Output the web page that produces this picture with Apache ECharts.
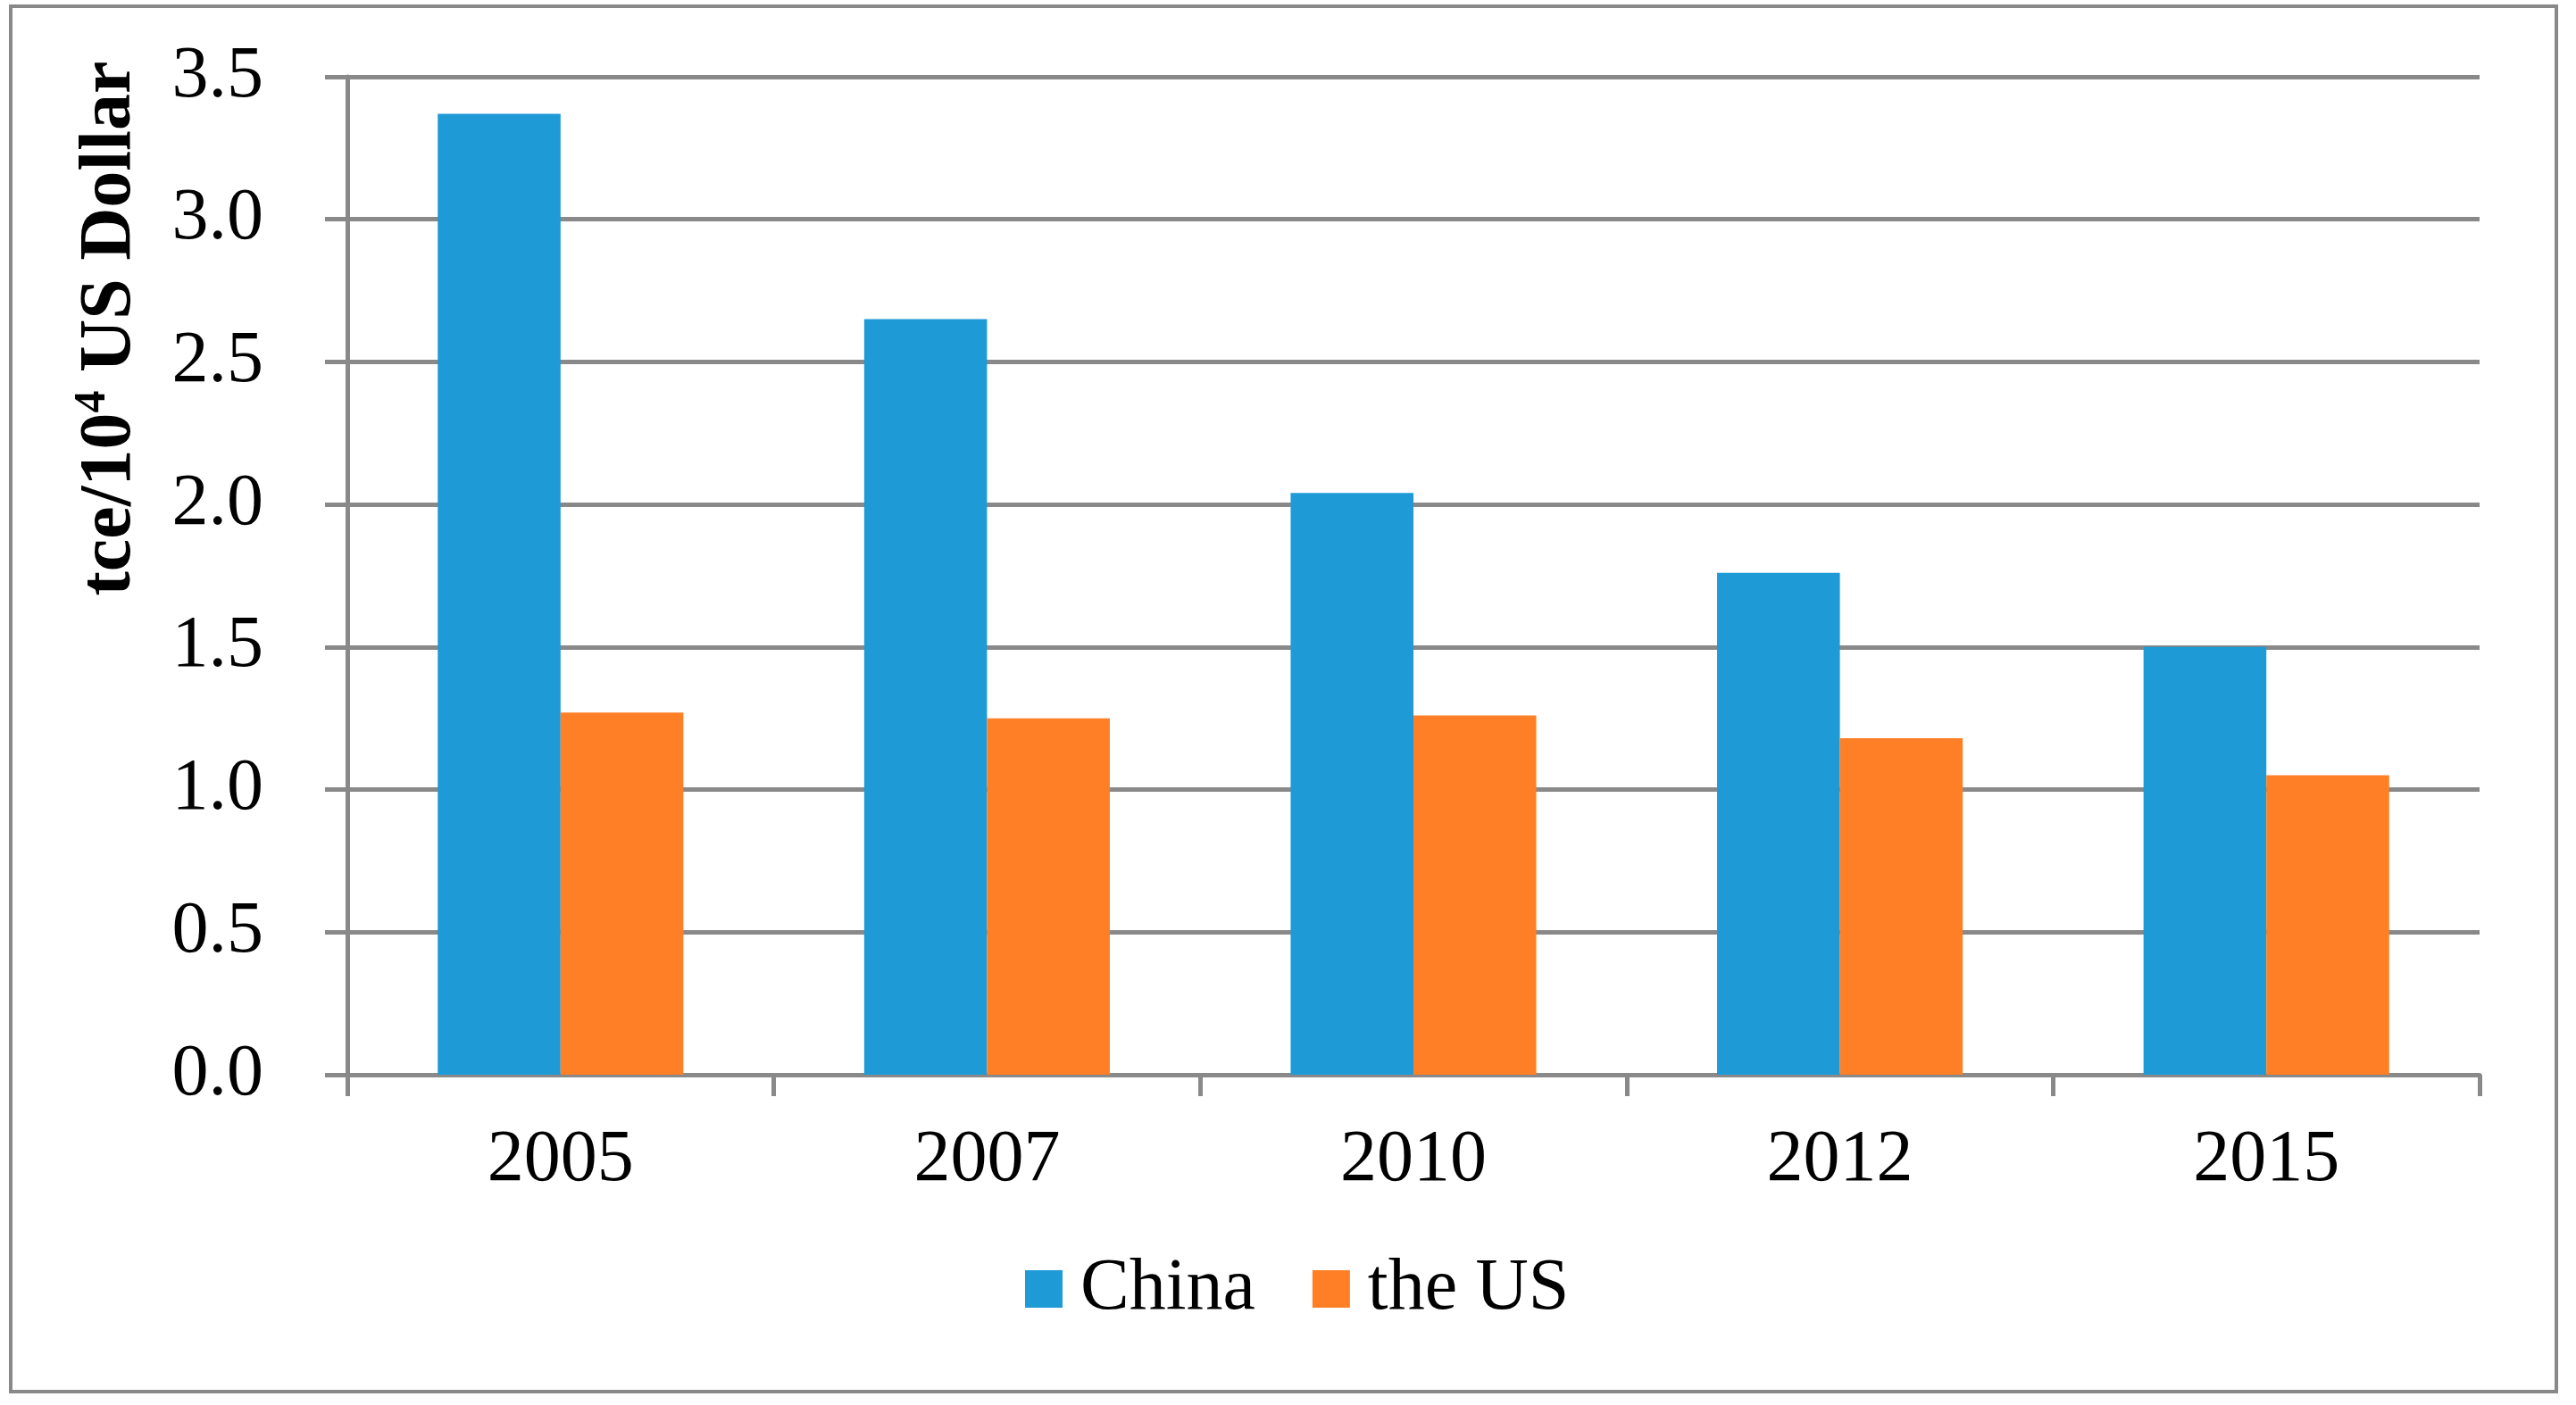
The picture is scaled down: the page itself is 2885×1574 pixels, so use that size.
<!DOCTYPE html>
<html>
<head>
<meta charset="utf-8">
<script src="https://cdn.jsdelivr.net/npm/echarts@6/dist/echarts.min.js"></script>
<style>
html,body{margin:0;padding:0;background:#fff;}
#chart{width:2885px;height:1574px;}
</style>
</head>
<body>
<div id="chart"></div>
<script>
const categories = ['2005', '2007', '2010', '2012', '2015'];
const chinaValues = [3.37, 2.65, 2.04, 1.76, 1.50];
const usValues = [1.27, 1.25, 1.26, 1.18, 1.05];
const seriesNames = ['China', 'the US'];
const yTitleMain = 'tce/10';
const yTitleSup = '4';
const yTitleRest = ' US Dollar';

const FONT = '"Liberation Serif", "Times New Roman", serif';
const GRAY = '#898989';
const BLUE = '#1E9BD7';
const ORANGE = '#FF7F27';

const chart = echarts.init(document.getElementById('chart'), null, {renderer: 'canvas'});
chart.setOption({
  animation: false,
  backgroundColor: '#fff',
  grid: {left: 389, right: 108, top: 86, bottom: 370, containLabel: false},
  legend: {
    left: 1143, top: 1398,
    itemWidth: 42, itemHeight: 42, itemGap: 64,
    icon: 'rect',
    textStyle: {fontFamily: FONT, fontSize: 82, color: '#000', padding: [0, 0, 0, 15]},
    data: seriesNames
  },
  xAxis: {
    type: 'category',
    data: categories,
    boundaryGap: true,
    axisLine: {show: true, lineStyle: {color: GRAY, width: 5}},
    axisTick: {show: true, length: 24, lineStyle: {color: GRAY, width: 5}, alignWithLabel: false},
    axisLabel: {fontFamily: FONT, fontSize: 82, color: '#000', margin: 55}
  },
  yAxis: {
    type: 'value',
    min: 0, max: 3.5, interval: 0.5,
    axisLine: {show: true, lineStyle: {color: GRAY, width: 5}},
    axisTick: {show: true, length: 25, lineStyle: {color: GRAY, width: 5}},
    splitLine: {show: true, lineStyle: {color: GRAY, width: 5}},
    axisLabel: {fontFamily: FONT, fontSize: 82, color: '#000', margin: 94,
      formatter: v => v.toFixed(1)}
  },
  series: [
    {name: seriesNames[0], type: 'bar', data: chinaValues, itemStyle: {color: BLUE},
     barGap: '0%', barCategoryGap: '42.4%'},
    {name: seriesNames[1], type: 'bar', data: usValues, itemStyle: {color: ORANGE},
     barGap: '0%', barCategoryGap: '42.4%'}
  ],
  graphic: [
    {type: 'rect', shape: {x: 12, y: 7, width: 2851, height: 1552},
     style: {fill: 'none', stroke: GRAY, lineWidth: 4}, silent: true},
    {type: 'text', x: 124, y: 368, rotation: Math.PI / 2,
     style: {
       text: '{a|' + yTitleMain + '}{s|' + yTitleSup + '}{a|' + yTitleRest + '}',
       align: 'center', verticalAlign: 'middle',
       rich: {
         a: {fontFamily: FONT, fontSize: 82, fontWeight: 'bold', fill: '#000', lineHeight: 90},
         s: {fontFamily: FONT, fontSize: 50, fontWeight: 'bold', fill: '#000', verticalAlign: 'top', lineHeight: 90}
       }
     }}
  ]
});
</script>
</body>
</html>
